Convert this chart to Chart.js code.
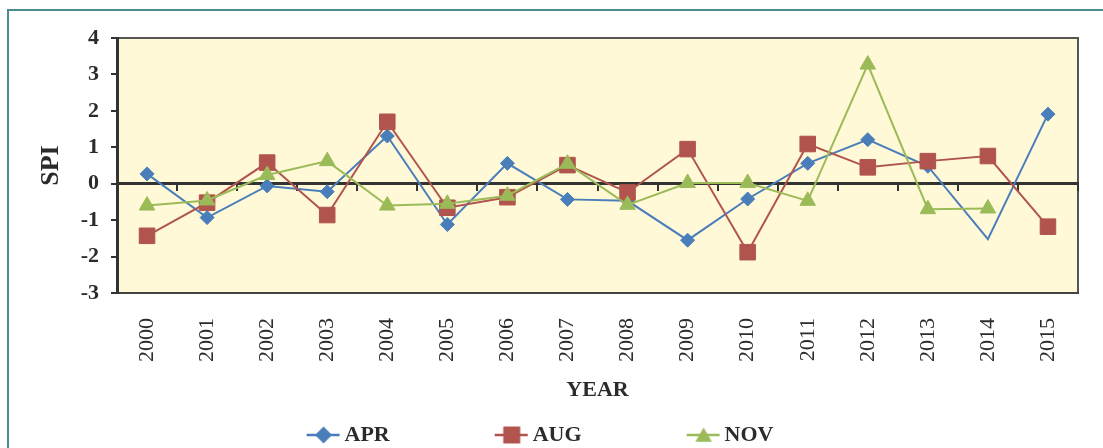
<!DOCTYPE html>
<html>
<head>
<meta charset="utf-8">
<script src="https://cdn.jsdelivr.net/npm/chart.js@4.4.0/dist/chart.umd.min.js"></script>
<style>
  html, body { margin: 0; padding: 0; overflow: hidden; background: #fff; }
  .frame { position: absolute; left: 7px; top: 9px; width: 1200px; height: 600px; border: 2px solid #4a8b8e; }
  .wrap { position: absolute; left: 0; top: 0; width: 1103px; height: 456px; }
</style>
</head>
<body>
<div class="frame"></div>
<div class="wrap"><canvas id="spi-chart"></canvas></div>
<script>
// SPI per year
const years = ['2000', '2001', '2002', '2003', '2004', '2005', '2006', '2007',
               '2008', '2009', '2010', '2011', '2012', '2013', '2014', '2015'];
const aprValues = [0.27, -0.93, -0.06, -0.22, 1.31, -1.12, 0.56, -0.43,
                   -0.47, -1.55, -0.42, 0.56, 1.21, 0.48, -1.52, 1.91];
const augValues = [-1.43, -0.52, 0.58, -0.86, 1.70, -0.66, -0.37, 0.51,
                   -0.24, 0.95, -1.88, 1.09, 0.45, 0.62, 0.76, -1.18];
const novValues = [-0.60, -0.46, 0.24, 0.62, -0.60, -0.55, -0.33, 0.55,
                   -0.58, 0.02, 0.02, -0.47, 3.27, -0.70, -0.68, null];
const yMin = -3;
const yMax = 4;

const BLUE = '#4a7ebb';
const RED = '#b0544d';
const GREEN = '#9bbb59';
const INK = '#2b2b2b';

Chart.defaults.font.family = "'Liberation Serif', 'Times New Roman', serif";

// legend pictures: blank on the left, "line + marker" at the right end next to the text
function legendIcon(color, style, radius, dy) {
  const c = document.createElement('canvas');
  c.width = 87;
  c.height = 22;
  const ctx = c.getContext('2d');
  ctx.strokeStyle = color;
  ctx.lineWidth = 2.5;
  ctx.beginPath();
  ctx.moveTo(53, 11);
  ctx.lineTo(86, 11);
  ctx.stroke();
  ctx.fillStyle = color;
  Chart.helpers.drawPoint(ctx, { pointStyle: style, radius: radius, rotation: 0, borderWidth: 0 }, 70, 11 + dy);
  return c;
}
const icons = [
  legendIcon(BLUE, 'rectRot', 8.5, 0),
  legendIcon(RED, 'rect', 12, 0),
  legendIcon(GREEN, 'triangle', 9.5, 2)
];

const plotBackground = {
  id: 'plotBackground',
  beforeDraw(chart) {
    const { ctx, chartArea: a } = chart;
    ctx.save();
    ctx.fillStyle = '#fff9d7';
    ctx.fillRect(a.left, a.top, a.width, a.height);
    ctx.strokeStyle = '#555';
    ctx.lineWidth = 2;
    ctx.strokeRect(a.left, a.top, a.width, a.height);
    ctx.restore();
  }
};

new Chart(document.getElementById('spi-chart'), {
  type: 'line',
  data: {
    labels: years,
    datasets: [{
      label: 'APR',
      data: aprValues,
      borderColor: BLUE,
      backgroundColor: BLUE,
      borderWidth: 2,
      pointStyle: 'rectRot',
      pointRadius: (c) => c.dataIndex === 14 ? 0 : 7,
      pointBorderWidth: 1,
      order: 3
    },
    {
      label: 'AUG',
      data: augValues,
      borderColor: RED,
      backgroundColor: RED,
      borderWidth: 2,
      pointStyle: 'rect',
      pointRadius: 11,
      pointBorderWidth: 1,
      order: 2
    },
    {
      label: 'NOV',
      data: novValues,
      borderColor: GREEN,
      backgroundColor: GREEN,
      borderWidth: 2,
      pointStyle: 'triangle',
      pointRadius: 9,
      pointBorderWidth: 1,
      order: 1
    }]
  },
  plugins: [plotBackground],
  options: {
    responsive: true,
    maintainAspectRatio: false,
    animation: false,
    events: [],
    // negative left padding only nudges the legend row to the left
    layout: { padding: { left: -44, right: 25, top: 38, bottom: 0 } },
    scales: {
      x: {
        type: 'category',
        offset: true,
        grid: { display: false, drawTicks: false },
        border: { color: '#444', width: 2 },
        ticks: {
          autoSkip: false,
          minRotation: 90,
          maxRotation: 90,
          padding: 25,
          color: INK,
          font: { size: 22 }
        },
        title: {
          display: true,
          text: 'YEAR',
          color: INK,
          font: { size: 22, weight: 'bold' },
          padding: { top: 0, bottom: -39 }
        },
        afterFit(scale) { scale.height = 72; }
      },
      xZero: {
        type: 'category',
        offset: true,
        position: { y: 0 },
        grid: { offset: true, drawOnChartArea: false, tickLength: 6, lineWidth: 2, color: '#333' },
        border: { color: '#333', width: 3 },
        ticks: { display: false }
      },
      y: {
        min: yMin,
        max: yMax,
        ticks: {
          stepSize: 1,
          padding: 12,
          color: INK,
          font: { size: 22, weight: 'bold' }
        },
        grid: { drawOnChartArea: false, tickLength: 6, lineWidth: 2, color: '#333' },
        border: { color: '#333', width: 3 },
        title: {
          display: true,
          text: 'SPI',
          color: INK,
          font: { size: 26, weight: 'bold' },
          padding: { top: 80 }
        },
        afterFit(scale) { scale.width = 161; }
      }
    },
    plugins: {
      tooltip: { enabled: false },
      legend: {
        position: 'bottom',
        labels: {
          usePointStyle: true,
          pointStyleWidth: 73,
          padding: 59,
          color: INK,
          font: { size: 22, weight: 'bold' },
          generateLabels(chart) {
            const items = Chart.defaults.plugins.legend.labels.generateLabels(chart);
            items.sort((a, b) => a.datasetIndex - b.datasetIndex);
            items.forEach((item) => { item.pointStyle = icons[item.datasetIndex]; });
            return items;
          }
        }
      }
    }
  }
});
</script>
</body>
</html>
